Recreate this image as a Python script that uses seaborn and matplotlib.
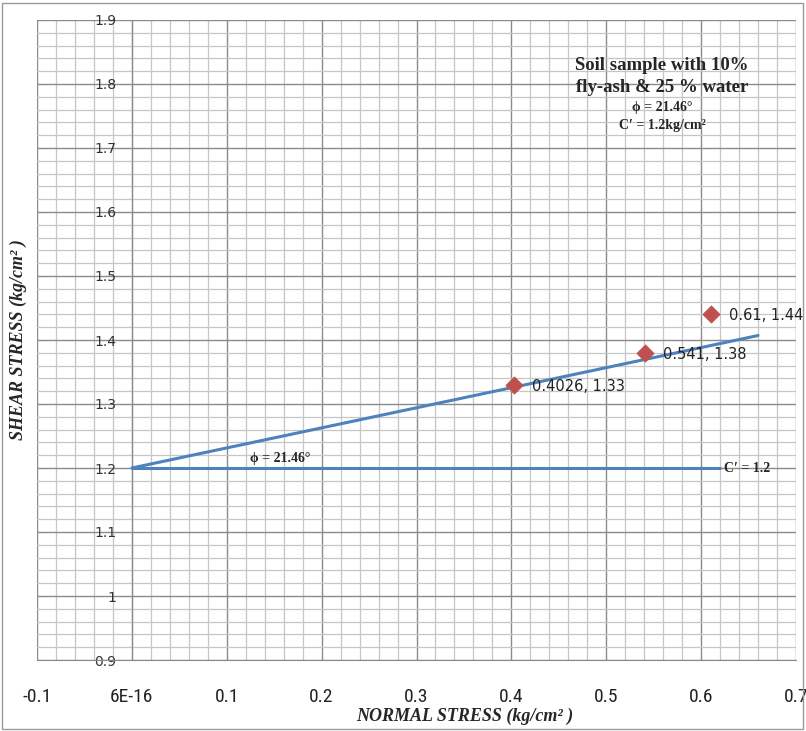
import matplotlib
matplotlib.use("Agg")
import matplotlib.pyplot as plt
import seaborn as sns
import pandas as pd
import numpy as np
from matplotlib.patches import Rectangle
from matplotlib.ticker import MultipleLocator, FixedLocator

# ---- data ----
normal_stress = [0.4026, 0.541, 0.61]
shear_stress = [1.33, 1.38, 1.44]
fit_x = [0.0, 0.66]
fit_y = [1.2, 1.407]
cohesion_x = [0.0, 0.62]
cohesion_y = [1.2, 1.2]
x_ticks = [-0.1, 0.0, 0.1, 0.2, 0.3, 0.4, 0.5, 0.6, 0.7]
x_tick_labels = ["-0.1", "6E-16", "0.1", "0.2", "0.3", "0.4", "0.5", "0.6", "0.7"]
y_ticks = [0.9, 1.0, 1.1, 1.2, 1.3, 1.4, 1.5, 1.6, 1.7, 1.8, 1.9]
y_tick_labels = ["0.9", "1", "1.1", "1.2", "1.3", "1.4", "1.5", "1.6", "1.7", "1.8", "1.9"]
phi_text = "\u03d5 = 21.46\u00b0"
c_text = "C\u2032 = 1.2"
title_lines = ["Soil sample with 10%", "fly-ash & 25 % water"]
sub_lines = ["\u03d5 = 21.46\u00b0", "C\u2032 = 1.2kg/cm\u00b2"]

sns.set_style("white")
plt.rcParams['font.family'] = ['DejaVu Sans']

fig = plt.figure(figsize=(8.06, 7.31), dpi=100)
L, R, T, B = 37, 796, 20, 660
W, H = 806, 731
ax = fig.add_axes([L / W, 1 - B / H, (R - L) / W, (B - T) / H])

ax.set_xlim(-0.1, 0.7)
ax.set_ylim(0.9, 1.9)

# grid
ax.xaxis.set_major_locator(FixedLocator(x_ticks))
ax.yaxis.set_major_locator(FixedLocator(y_ticks))
ax.xaxis.set_minor_locator(MultipleLocator(0.02))
ax.yaxis.set_minor_locator(MultipleLocator(0.02))
ax.grid(which='minor', color='#c6c6c6', linewidth=0.9)
ax.grid(which='major', color='#8a8a8a', linewidth=1.0)
ax.set_axisbelow(True)
ax.tick_params(which='minor', length=0)

for s in ['top', 'right']:
    ax.spines[s].set_visible(False)
ax.spines['left'].set_position(('data', 0.0))
ax.spines['left'].set_color('#8a8a8a')
ax.spines['bottom'].set_color('#8a8a8a')

ax.set_xticklabels(x_tick_labels, fontsize=14, color='#222222',
                   family=['Roboto Condensed', 'Liberation Sans Narrow', 'Liberation Sans', 'DejaVu Sans'])
ax.set_yticklabels(y_tick_labels, fontsize=10, color='#333333')
ax.tick_params(axis='x', which='major', length=5, color='#8a8a8a', pad=15)
ax.tick_params(axis='y', which='major', length=5, color='#8a8a8a', pad=6)

blue = '#4F81BD'
sns.lineplot(x=fit_x, y=fit_y, ax=ax, color=blue, linewidth=2.2, zorder=3)
sns.lineplot(x=cohesion_x, y=cohesion_y, ax=ax, color=blue, linewidth=2.2, zorder=3)
sns.scatterplot(x=normal_stress, y=shear_stress, ax=ax, marker='D', s=75,
                color='#C0504D', edgecolor='#C0504D', zorder=4)

for xv, yv in zip(normal_stress, shear_stress):
    ax.annotate(f"{xv}, {yv}", (xv, yv), xytext=(13, -1), textcoords='offset points',
                ha='left', va='center', fontsize=10.5, color='#222222', zorder=5)

serif = ['Liberation Serif', 'DejaVu Serif']
ax.text(0.125, 1.204, phi_text, fontsize=10, fontweight='bold', family=serif,
        ha='left', va='bottom', zorder=5)
ax.text(0.624, 1.2, c_text, fontsize=10, fontweight='bold', family=serif,
        ha='left', va='center', zorder=5)

fig.text(662 / W, 1 - 65 / H, title_lines[0], fontsize=13.5, fontweight='bold',
         family=serif, ha='center', va='center')
fig.text(662 / W, 1 - 88 / H, title_lines[1], fontsize=13.5, fontweight='bold',
         family=serif, ha='center', va='center')
fig.text(662 / W, 1 - 108 / H, sub_lines[0], fontsize=10, fontweight='bold',
         family=serif, ha='center', va='center')
fig.text(662 / W, 1 - 125 / H, sub_lines[1], fontsize=10, fontweight='bold',
         family=serif, ha='center', va='center')

fig.text(465 / W, 1 - 716 / H, "NORMAL STRESS (kg/cm\u00b2 )", fontsize=13,
         fontweight='bold', fontstyle='italic', family=serif, ha='center', va='center')
fig.text(18 / W, 1 - 340 / H, "SHEAR STRESS (kg/cm\u00b2 )", fontsize=13,
         fontweight='bold', fontstyle='italic', family=serif, ha='center', va='center',
         rotation=90)

fig.patches.append(Rectangle((2 / W, 2 / H), 1 - 5 / W, 1 - 5 / H, transform=fig.transFigure,
                             fill=False, edgecolor='#9a9a9a', linewidth=1.0))

fig.savefig("out.png", dpi=100)
